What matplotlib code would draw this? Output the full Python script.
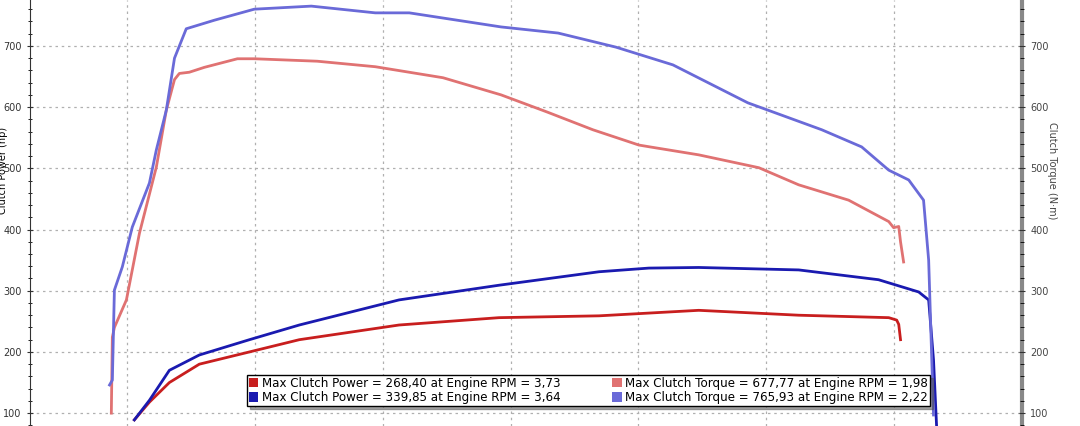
import matplotlib
matplotlib.use("Agg")
import matplotlib.pyplot as plt
from matplotlib.ticker import MultipleLocator
from matplotlib.patches import Patch

# RPM (x1000) and values
rt_rpm = [1.439,1.443,1.451,1.498,1.549,1.615,1.654,1.686,1.705,1.744,1.803,1.932,1.998,2.244,2.471,2.736,2.963,3.143,3.322,3.502,3.545,3.736,3.971,4.127,4.322,4.479,4.498,4.518,4.525,4.537]
rt_val = [100,224,240,285,394,502,595,645,655,657,665,679,679,675,666,648,620,592,563,538,535,522,501,473,448,413,403,405,380,347]

bt_rpm = [1.432,1.443,1.451,1.482,1.521,1.588,1.615,1.654,1.686,1.732,1.842,1.998,2.221,2.471,2.604,2.963,3.186,3.412,3.635,3.928,4.217,4.373,4.479,4.557,4.615,4.635,4.654]
bt_val = [146,154,301,339,404,476,530,595,680,728,742,760,765,754,754,731,721,698,669,607,563,535,497,481,448,350,97]

rp_rpm = [1.529,1.588,1.666,1.783,1.979,2.174,2.564,2.955,3.346,3.736,4.127,4.479,4.510,4.518,4.525]
rp_val = [89,118,150,180,200,220,244,256,259,268,260,256,252,245,220]

bp_rpm = [1.529,1.588,1.666,1.783,1.979,2.174,2.564,2.955,3.346,3.541,3.736,4.127,4.439,4.596,4.635,4.654,4.666]
bp_val = [89,121,170,195,220,244,285,309,331,337,338,334,318,298,285,187,79]

legend_labels = ["Max Clutch Power = 268,40 at Engine RPM = 3,73",
                 "Max Clutch Power = 339,85 at Engine RPM = 3,64",
                 "Max Clutch Torque = 677,77 at Engine RPM = 1,98",
                 "Max Clutch Torque = 765,93 at Engine RPM = 2,22"]

fig = plt.figure(figsize=(10.8, 4.26), dpi=100)
ax = fig.add_axes([30/1080, 0, 992/1080, 1])
ax.set_xlim(1.121, 5.0)
ax.set_ylim(79, 775)
ax.xaxis.set_major_locator(MultipleLocator(0.5))
ax.yaxis.set_major_locator(MultipleLocator(100))
ax.yaxis.set_minor_locator(MultipleLocator(20))
ax.grid(True, which='major', color='#b0b0b0', linestyle=(0, (2, 3)), linewidth=0.9)
ax.tick_params(axis='x', labelbottom=False, length=0)
ax.tick_params(axis='y', labelsize=7, length=5, direction='inout', color='#333333', labelcolor='#333333')
ax.tick_params(axis='y', which='minor', length=3, direction='inout')
for s in ['top', 'bottom']:
    ax.spines[s].set_visible(False)
ax.spines['left'].set_color('#333333')
ax.spines['right'].set_color('#888888')
ax.spines['right'].set_linewidth(3)

ax.plot(rp_rpm, rp_val, color='#c81e1e', lw=2)
ax.plot(bp_rpm, bp_val, color='#1a1ab0', lw=2)
ax.plot(rt_rpm, rt_val, color='#e07272', lw=2)
ax.plot(bt_rpm, bt_val, color='#6a6ad8', lw=2)

ax2 = ax.twinx()
ax2.set_ylim(79, 775)
ax2.yaxis.set_major_locator(MultipleLocator(100))
ax2.yaxis.set_minor_locator(MultipleLocator(20))
ax2.tick_params(axis='y', labelsize=7, length=5, direction='inout', color='#333333', labelcolor='#444444')
ax2.tick_params(axis='y', which='minor', length=3, direction='inout')
for s in ax2.spines.values():
    s.set_visible(False)
ax2.set_ylabel("Clutch Torque (N·m)", fontsize=7, rotation=270, color='#444444')
ax2.yaxis.set_label_coords(1.035, 0.6)
ax.set_ylabel("Clutch Power (hp)", fontsize=7)
ax.yaxis.set_label_coords(-0.022, 0.6)

handles = [Patch(facecolor=c, edgecolor='none') for c in ['#c81e1e', '#1a1ab0', '#e07272', '#6a6ad8']]
leg = ax.legend(handles, legend_labels, ncol=2, loc='lower left',
                bbox_to_anchor=((247-30)/992, 20/426, (930-247)/992, 35/426), mode='expand',
                fontsize=8.6, frameon=True, fancybox=False, shadow=True,
                handlelength=0.8, handleheight=0.8, handletextpad=0.3, columnspacing=0.2,
                borderpad=0.15, labelspacing=0.1, borderaxespad=0)
leg.get_frame().set_edgecolor('black')
leg.get_frame().set_linewidth(1)
fig.savefig("out.png", dpi=100)
